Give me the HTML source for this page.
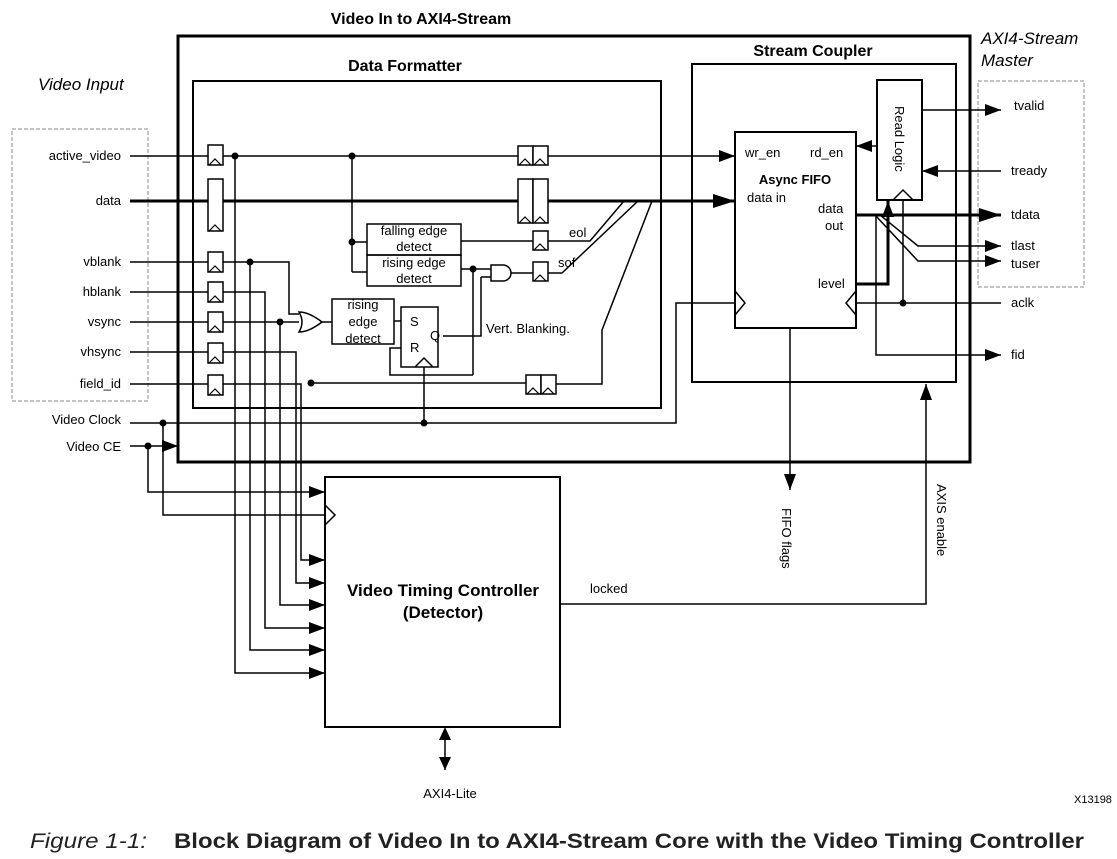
<!DOCTYPE html>
<html><head><meta charset="utf-8"><style>
body{margin:0;background:#fff;}
svg{display:block;font-family:"Liberation Sans",Arial,sans-serif;}
</style></head><body>
<svg width="1117" height="859" viewBox="0 0 1117 859" xmlns="http://www.w3.org/2000/svg">
<defs>
<marker id="a" markerWidth="10" markerHeight="8" refX="10" refY="4" orient="auto" markerUnits="userSpaceOnUse"><path d="M0,0 L10,4 L0,8z" fill="#000"/></marker>
<marker id="A" markerWidth="22" markerHeight="14" refX="22" refY="7" orient="auto" markerUnits="userSpaceOnUse"><path d="M0,0 L22,7 L0,14z" fill="#000"/></marker>
<marker id="b" markerWidth="16" markerHeight="12" refX="16" refY="6" orient="auto" markerUnits="userSpaceOnUse"><path d="M0,0 L16,6 L0,12z" fill="#000"/></marker>
</defs>
<g fill="none" stroke="#000">
<rect x="178" y="36" width="792" height="426" stroke-width="3"/>
<rect x="193" y="81" width="468" height="327" stroke-width="2"/>
<rect x="692" y="64" width="264" height="318" stroke-width="2"/>
<rect x="12" y="129" width="136" height="272" stroke="#888" stroke-dasharray="4,2" stroke-width="1"/>
<rect x="978" y="81" width="106" height="206" stroke="#888" stroke-dasharray="4,2" stroke-width="1"/>
<rect x="325" y="477" width="235" height="250" stroke-width="2"/>
<rect x="735" y="132" width="121" height="196" stroke-width="2"/>
<rect x="877" y="80" width="45" height="120" stroke-width="2"/>
<g stroke-width="1.5">
<line x1="130" y1="156" x2="208" y2="156"/>
<line x1="130" y1="262" x2="208" y2="262"/>
<line x1="130" y1="292" x2="208" y2="292"/>
<line x1="130" y1="322" x2="208" y2="322"/>
<line x1="130" y1="352" x2="208" y2="352"/>
<line x1="130" y1="384" x2="208" y2="384"/>
<line x1="223" y1="156" x2="518" y2="156"/>
<line x1="548" y1="156" x2="735" y2="156" marker-end="url(#b)"/>
</g>
<line x1="130" y1="201" x2="208" y2="201" stroke-width="3"/>
<line x1="223" y1="201" x2="518" y2="201" stroke-width="3"/>
<line x1="548" y1="201" x2="735" y2="201" stroke-width="3" marker-end="url(#A)"/>
<g stroke-width="1.5" fill="#fff">
<rect x="208" y="145" width="15" height="20"/>
<rect x="208" y="179" width="15" height="52"/>
<rect x="208" y="252" width="15" height="20"/>
<rect x="208" y="282" width="15" height="20"/>
<rect x="208" y="312" width="15" height="20"/>
<rect x="208" y="343" width="15" height="20"/>
<rect x="208" y="375" width="15" height="20"/>
<rect x="518" y="146" width="15" height="19"/><rect x="533" y="146" width="15" height="19"/>
<rect x="518" y="179" width="15" height="44"/><rect x="533" y="179" width="15" height="44"/>
<rect x="533" y="231" width="15" height="19"/>
<rect x="533" y="262" width="15" height="19"/>
<rect x="526" y="375" width="15" height="19"/><rect x="541" y="375" width="15" height="19"/>
</g>
<g stroke-width="1.2">
<path d="M209,165 l6,-6 l6,6 M209,231 l6,-6 l6,6 M209,272 l6,-6 l6,6 M209,302 l6,-6 l6,6 M209,332 l6,-6 l6,6 M209,363 l6,-6 l6,6 M209,395 l6,-6 l6,6"/>
<path d="M519,165 l6,-6 l6,6 M534,165 l6,-6 l6,6 M519,223 l6,-6 l6,6 M534,223 l6,-6 l6,6 M534,250 l6,-6 l6,6 M534,281 l6,-6 l6,6 M527,394 l6,-6 l6,6 M542,394 l6,-6 l6,6"/>
</g>
<g stroke-width="1.5">
<line x1="352" y1="156" x2="352" y2="272"/>
<line x1="352" y1="242" x2="367" y2="242"/>
<line x1="352" y1="272" x2="367" y2="272"/>
<rect x="367" y="224" width="94" height="31"/>
<rect x="367" y="255" width="94" height="31"/>
<line x1="461" y1="241" x2="533" y2="241"/>
<line x1="461" y1="269" x2="491" y2="269"/>
<path d="M491,265 h12 a8,8 0 0 1 0,16 h-12z"/>
<line x1="511" y1="273" x2="533" y2="273"/>
<line x1="473" y1="269" x2="473" y2="375"/>
<path d="M481,277 h10 M481,277 V336 H443"/>
<path d="M548,241 h42 l34,-40"/>
<path d="M548,273 h14 l76,-72"/>
<path d="M556,384 h46 v-54 l50,-129"/>
<line x1="620" y1="201" x2="652" y2="201"/>
<path d="M223,262 h66 v52 h10"/>
<path d="M223,322 h76"/>
<path d="M299,312 q10,0 23,10 q-13,10 -23,10 q6,-10 0,-20z"/>
<line x1="322" y1="322" x2="332" y2="322"/>
<rect x="332" y="299" width="62" height="45"/>
<rect x="401" y="307" width="37" height="60"/>
<line x1="394" y1="321" x2="401" y2="321"/>
<path d="M401,348 h-11 v27 H473"/>
<path d="M415,367 l9,-9 l9,9"/>
<line x1="424" y1="367" x2="424" y2="423"/>
<path d="M311,383 H526"/>
<path d="M235,156 V673 H325" marker-end="url(#b)"/>
<path d="M250,262 V650 H325" marker-end="url(#b)"/>
<path d="M223,292 H265 V628 H325" marker-end="url(#b)"/>
<path d="M280,322 V605 H325" marker-end="url(#b)"/>
<path d="M223,352 H296 V583 H325" marker-end="url(#b)"/>
<path d="M223,384 H301 V560 H325" marker-end="url(#b)"/>
<path d="M130,423 H676 V303 H735"/>
<path d="M130,446 H178" marker-end="url(#b)"/>
<path d="M163,423 V515 H325"/>
<path d="M148,446 V492 H325" marker-end="url(#b)"/>
<path d="M325,505 l10,10 l-10,10"/>
<path d="M735,291 l10,12 l-10,12"/>
<path d="M856,291 l-10,12 l10,12"/>
<line x1="877" y1="146" x2="856" y2="146" marker-end="url(#b)"/>
<line x1="922" y1="110" x2="1001" y2="110" marker-end="url(#b)"/>
<line x1="1001" y1="171" x2="922" y2="171" marker-end="url(#b)"/>
<line x1="1001" y1="303" x2="856" y2="303"/>
<path d="M903,303 V200 M893,200 l10,-10 l10,10"/>
<path d="M856,215 H876 V355 H1001" marker-end="url(#b)"/>
<path d="M880,215 l38,31 H1001" marker-end="url(#b)"/>
<path d="M875,215 l43,46 H1001" marker-end="url(#b)"/>
<line x1="790" y1="328" x2="790" y2="490" marker-end="url(#b)"/>
<path d="M560,604 H926 V384" marker-end="url(#b)"/>
<line x1="445" y1="735" x2="445" y2="770"/>
</g>
<line x1="856" y1="215" x2="1001" y2="215" stroke-width="3" marker-end="url(#A)"/>
<path d="M856,284 H888 V201" stroke-width="3" marker-end="url(#b)"/>
<path d="M439,740 l6,-13 l6,13z M439,757 l6,13 l6,-13z" fill="#000" stroke="none"/>
</g>
<g fill="#000">
<circle cx="235" cy="156" r="3.5"/><circle cx="352" cy="156" r="3.5"/><circle cx="352" cy="242" r="3.5"/>
<circle cx="250" cy="262" r="3.5"/><circle cx="280" cy="322" r="3.5"/><circle cx="473" cy="269" r="3.5"/>
<circle cx="311" cy="383" r="3.5"/><circle cx="424" cy="423" r="3.5"/><circle cx="163" cy="423" r="3.5"/>
<circle cx="148" cy="446" r="3.5"/><circle cx="903" cy="303" r="3.5"/>
</g>
<g font-size="13">
<text x="121" y="160" text-anchor="end">active_video</text>
<text x="121" y="205" text-anchor="end">data</text>
<text x="121" y="266" text-anchor="end">vblank</text>
<text x="121" y="296" text-anchor="end">hblank</text>
<text x="121" y="326" text-anchor="end">vsync</text>
<text x="121" y="356" text-anchor="end">vhsync</text>
<text x="121" y="388" text-anchor="end">field_id</text>
<text x="121" y="424" text-anchor="end">Video Clock</text>
<text x="121" y="451" text-anchor="end">Video CE</text>
<text x="414" y="235" text-anchor="middle">falling edge</text>
<text x="414" y="251" text-anchor="middle">detect</text>
<text x="414" y="267" text-anchor="middle">rising edge</text>
<text x="414" y="283" text-anchor="middle">detect</text>
<text x="363" y="309" text-anchor="middle">rising</text>
<text x="363" y="326" text-anchor="middle">edge</text>
<text x="363" y="343" text-anchor="middle">detect</text>
<text x="410" y="326">S</text><text x="410" y="352">R</text><text x="430" y="340">Q</text>
<text x="486" y="333">Vert. Blanking.</text>
<text x="569" y="237">eol</text><text x="558" y="267">sof</text>
<text x="745" y="157">wr_en</text><text x="810" y="157">rd_en</text>
<text x="747" y="202">data in</text>
<text x="818" y="213">data</text><text x="825" y="230">out</text>
<text x="818" y="288">level</text>
<text x="1014" y="110">tvalid</text><text x="1011" y="175">tready</text>
<text x="1011" y="219">tdata</text><text x="1011" y="250">tlast</text>
<text x="1011" y="268">tuser</text><text x="1011" y="307">aclk</text><text x="1011" y="359">fid</text>
<text x="590" y="593">locked</text>
<text x="450" y="798" text-anchor="middle">AXI4-Lite</text>
<text x="1074" y="803" font-size="11">X13198</text>
<text transform="translate(895,106) rotate(90)">Read Logic</text>
<text transform="translate(782,508) rotate(90)">FIFO flags</text>
<text transform="translate(937,484) rotate(90)">AXIS enable</text>
</g>
<g font-weight="bold" font-size="16">
<text x="421" y="24" text-anchor="middle">Video In to AXI4-Stream</text>
<text x="405" y="71" text-anchor="middle">Data Formatter</text>
<text x="813" y="56" text-anchor="middle">Stream Coupler</text>
<text x="443" y="596" text-anchor="middle" font-size="17">Video Timing Controller</text>
<text x="443" y="618" text-anchor="middle" font-size="17">(Detector)</text>
<text x="795" y="184" text-anchor="middle" font-size="13">Async FIFO</text>
</g>
<g font-style="italic" font-size="17">
<text x="38" y="90">Video Input</text>
<text x="981" y="44">AXI4-Stream</text>
<text x="981" y="66">Master</text>
</g>
<text x="30" y="848" font-size="21" font-style="italic" fill="#222" textLength="117" lengthAdjust="spacingAndGlyphs">Figure 1-1:</text>
<text x="174" y="848" font-size="21" font-weight="bold" fill="#222" textLength="910" lengthAdjust="spacingAndGlyphs">Block Diagram of Video In to AXI4-Stream Core with the Video Timing Controller</text>
</svg>
</body></html>
